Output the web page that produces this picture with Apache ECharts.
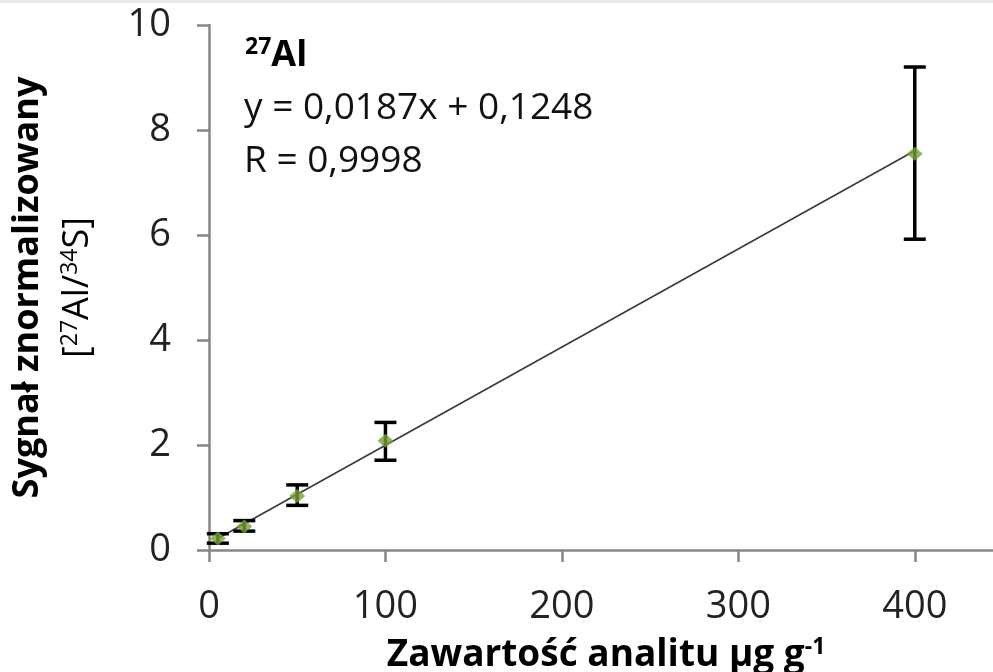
<!DOCTYPE html>
<html>
<head>
<meta charset="utf-8">
<script src="https://cdn.jsdelivr.net/npm/echarts@6/dist/echarts.min.js"></script>
<style>
  html, body { margin: 0; background: #fff; }
  #chart { width: 993px; height: 672px; }
</style>
</head>
<body>
<div id="chart"></div>
<script>
// data
const conc = [5, 20, 50, 100, 400];            // µg g-1
const signal = [0.22, 0.45, 1.03, 2.08, 7.55];  // 27Al/34S
const errLow = [0.13, 0.36, 0.85, 1.71, 5.92];
const errHigh = [0.31, 0.56, 1.24, 2.43, 9.2];
const trendX = [5, 400];
const trendY = [0.218, 7.605];
const xTicks = [0, 100, 200, 300, 400];
const yTicks = [0, 2, 4, 6, 8, 10];

const FONT = "Open Sans";
const axisGray = "#868686";

let chartDom = document.getElementById("chart");
let myChart = echarts.init(chartDom);

let points = conc.map((x, i) => [x, signal[i]]);
let bars = conc.map((x, i) => [x, errLow[i], errHigh[i]]);
let trend = trendX.map((x, i) => [x, trendY[i]]);

let option = {
  animation: false,
  backgroundColor: "#fff",
  textStyle: { fontFamily: FONT },
  grid: { left: 209, right: -10, top: 25, bottom: 122, containLabel: false, outerBoundsMode: "none" },
  graphic: [
    // thin tinted border at the very top
    { type: "rect", left: 0, top: 0, shape: { width: 993, height: 3 }, style: { fill: "#e3ece3" } },
    {
      type: "text",
      left: 245,
      top: 36,
      style: {
        text: "{s|27}{b|Al}",
        rich: {
          s: { fontFamily: FONT, fontSize: 23, fontWeight: "bold", fill: "#000", verticalAlign: "top", padding: [0, 0, 16, 0] },
          b: { fontFamily: FONT, fontSize: 36, fontWeight: "bold", fill: "#000" },
        },
      },
    },
    {
      type: "text",
      left: 244,
      top: 90,
      style: { text: "y = 0,0187x + 0,1248", font: "37px 'Open Sans'", fill: "#111" },
    },
    {
      type: "text",
      left: 244,
      top: 143,
      style: { text: "R = 0,9998", font: "37px 'Open Sans'", fill: "#111" },
    },
  ],
  xAxis: {
    type: "value",
    min: 0,
    max: 450,
    interval: 100,
    name: "{t|Zawartość analitu µg g}{s|-1}",
    nameLocation: "middle",
    nameGap: 86,
    nameTextStyle: {
      rich: {
        t: { fontFamily: FONT, fontSize: 37, fontWeight: "bold", color: "#000" },
        s: { fontFamily: FONT, fontSize: 23, fontWeight: "bold", color: "#000", verticalAlign: "top", padding: [0, 0, 16, 0] },
      },
    },
    axisLine: { show: true, lineStyle: { color: axisGray, width: 2.5 } },
    axisTick: { show: true, inside: false, length: 12, lineStyle: { color: axisGray, width: 2.5 } },
    axisLabel: {
      margin: 38,
      fontSize: 38,
      color: "#222",
      showMaxLabel: false,
      formatter: (v) => (xTicks.includes(v) ? String(v) : ""),
    },
    splitLine: { show: false },
  },
  yAxis: {
    type: "value",
    min: 0,
    max: 10,
    interval: 2,
    name: "{b|Sygnał znormalizowany}\n{t|[}{s|27}{t|Al/}{s|34}{t|S]}",
    nameLocation: "middle",
    nameGap: 106,
    nameTextStyle: {
      lineHeight: 50,
      rich: {
        b: { fontFamily: FONT, fontSize: 36, fontWeight: "bold", color: "#000", lineHeight: 50 },
        t: { fontFamily: FONT, fontSize: 36, color: "#000", lineHeight: 50 },
        s: { fontFamily: FONT, fontSize: 23, color: "#000", lineHeight: 50, verticalAlign: "top", padding: [6, 0, 0, 0] },
      },
    },
    axisLine: { show: true, lineStyle: { color: axisGray, width: 2.5 } },
    axisTick: { show: true, inside: false, length: 12, lineStyle: { color: axisGray, width: 2.5 } },
    axisLabel: {
      margin: 38,
      fontSize: 38,
      color: "#222",
      formatter: (v) => (yTicks.includes(v) ? String(v) : ""),
    },
    splitLine: { show: false },
  },
  series: [
    {
      name: "trend",
      type: "line",
      data: trend,
      symbol: "none",
      lineStyle: { color: "#3a3a3a", width: 1.6 },
      z: 2,
    },
    {
      name: "errors",
      type: "custom",
      data: bars,
      z: 3,
      renderItem: (params, api) => {
        let x = api.value(0);
        let lo = api.coord([x, api.value(1)]);
        let hi = api.coord([x, api.value(2)]);
        let half = 11;
        let style = { stroke: "#000", lineWidth: 3.5 };
        return {
          type: "group",
          children: [
            { type: "line", shape: { x1: lo[0], y1: lo[1], x2: hi[0], y2: hi[1] }, style },
            { type: "line", shape: { x1: hi[0] - half, y1: hi[1], x2: hi[0] + half, y2: hi[1] }, style },
            { type: "line", shape: { x1: lo[0] - half, y1: lo[1], x2: lo[0] + half, y2: lo[1] }, style },
          ],
        };
      },
    },
    {
      name: "Al",
      type: "scatter",
      data: points,
      symbol: "diamond",
      symbolSize: [16, 14],
      itemStyle: { color: "#77a136" },
      z: 4,
    },
  ],
};

option && myChart.setOption(option);
</script>
</body>
</html>
